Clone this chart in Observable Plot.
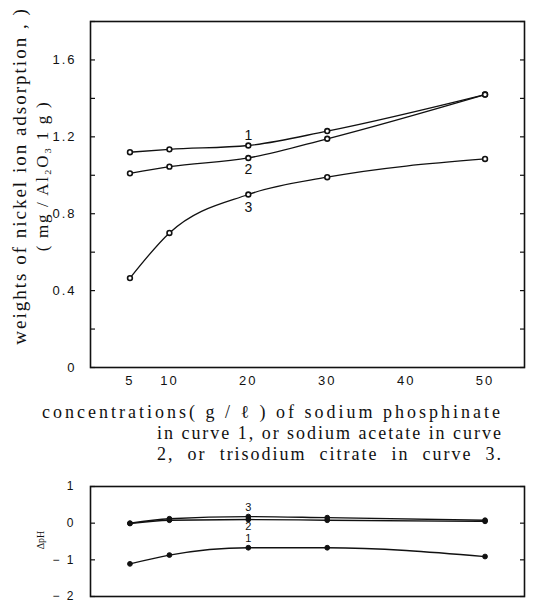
<!DOCTYPE html>
<html>
<head>
<meta charset="utf-8">
<script src="https://cdn.jsdelivr.net/npm/d3@7"></script>
<script src="https://cdn.jsdelivr.net/npm/@observablehq/plot@0.6"></script>
<style>
  html, body { margin: 0; padding: 0; background: white; }
  #wrap { position: relative; width: 550px; height: 604px; overflow: hidden; background: white; }
  #top, #bot { position: absolute; left: 0; }
  #top { top: 0; }
  #bot { top: 470px; }
  .rot { position: absolute; white-space: nowrap; line-height: 1; transform: translate(-50%, -50%) rotate(-90deg); font-family: "Liberation Serif", "DejaVu Serif", serif; color: #111; }
  .cap { position: absolute; white-space: nowrap; line-height: 1; transform: translate(0, -50%); font-family: "Liberation Serif", "DejaVu Serif", serif; color: #111; }
  svg g[aria-label$="tick label"] text { letter-spacing: 2px; }
</style>
</head>
<body>
<div id="wrap">
  <div id="top"></div>
  <div id="bot"></div>
</div>
<script>
// ---- data ----
const concentrations = [5, 10, 20, 30, 50];
const adsorption1 = [1.12, 1.135, 1.155, 1.23, 1.42];
const adsorption2 = [1.01, 1.045, 1.09, 1.19, 1.42];
const adsorption3 = [0.465, 0.70, 0.90, 0.99, 1.085];
const deltaPH1 = [-1.11, -0.87, -0.67, -0.67, -0.91];
const deltaPH2 = [-0.01, 0.08, 0.10, 0.08, 0.05];
const deltaPH3 = [0.0, 0.12, 0.18, 0.15, 0.08];
const curveNames = ["1", "2", "3"];
const xTickValues = [5, 10, 20, 30, 40, 50];
const yTickValues = [0, 0.4, 0.8, 1.2, 1.6];
const yMinorTicks = [0, 0.2, 0.4, 0.6, 0.8, 1.0, 1.2, 1.4, 1.6, 1.8];
const phTickValues = [1, 0, -1, -2];
const yTitle1 = "weights of nickel ion adsorption , )";
const yTitle2 = "( mg / Al\u2082O\u2083 1 g )";
const caption1 = "concentrations( g / \u2113 ) of sodium phosphinate";
const caption2 = "in curve 1, or sodium acetate in curve";
const caption3 = "2, or trisodium citrate in curve 3.";
const phTitle = "\u0394pH";

// ---- tables ----
const adsorption = [adsorption1, adsorption2, adsorption3];
const deltaPH = [deltaPH1, deltaPH2, deltaPH3];
const topRows = adsorption.flatMap((vals, i) => vals.map((v, j) => ({x: concentrations[j], y: v, curve: curveNames[i]})));
const botRows = deltaPH.flatMap((vals, i) => vals.map((v, j) => ({x: concentrations[j], y: v, curve: curveNames[i]})));
const at20 = concentrations.indexOf(20);

const ink = "#111";
const baseStyle = {fontFamily: "Liberation Sans, Arial, sans-serif", fontSize: "13px", color: ink, background: "white", overflow: "visible"};

const topPlot = Plot.plot({
  width: 550, height: 392,
  marginLeft: 90, marginRight: 26, marginTop: 21, marginBottom: 25,
  x: {domain: [0, 55]},
  y: {domain: [0, 1.8]},
  style: baseStyle,
  marks: [
    Plot.frame({stroke: ink, strokeWidth: 1.6}),
    Plot.axisY({ticks: yMinorTicks, tickSize: -5, tickFormat: () => "", label: null, strokeWidth: 1.2}),
    Plot.axisY({anchor: "right", ticks: yMinorTicks, tickSize: -5, tickFormat: () => "", label: null, strokeWidth: 1.2}),
    Plot.axisY({ticks: yTickValues, tickSize: 0, tickPadding: 14, tickFormat: d => d === 0 ? "0" : d3.format(".1f")(d), label: null}),
    Plot.axisX({ticks: xTickValues, tickSize: 0, tickPadding: 8, label: null}),
    Plot.line(topRows, {x: "x", y: "y", z: "curve", curve: "monotone-x", stroke: ink, strokeWidth: 1.3}),
    Plot.dot(topRows, {x: "x", y: "y", r: 2.4, fill: "white", stroke: ink, strokeWidth: 1.6}),
    Plot.text([{x: 20, y: adsorption1[at20], t: curveNames[0]}], {x: "x", y: "y", text: "t", dy: -10, fontSize: 14}),
    Plot.text([{x: 20, y: adsorption2[at20], t: curveNames[1]}], {x: "x", y: "y", text: "t", dy: 12, fontSize: 14}),
    Plot.text([{x: 20, y: adsorption3[at20], t: curveNames[2]}], {x: "x", y: "y", text: "t", dy: 13, fontSize: 14})
  ]
});
document.getElementById("top").appendChild(topPlot);

const botPlot = Plot.plot({
  width: 550, height: 134,
  marginLeft: 90, marginRight: 26, marginTop: 16, marginBottom: 8,
  x: {domain: [0, 55]},
  y: {domain: [-2, 1]},
  style: {...baseStyle, fontSize: "12px"},
  marks: [
    Plot.frame({stroke: ink, strokeWidth: 1.6}),
    Plot.axisY({ticks: phTickValues, tickSize: -5, tickFormat: () => "", label: null, strokeWidth: 1.2}),
    Plot.axisY({anchor: "right", ticks: phTickValues, tickSize: -5, tickFormat: () => "", label: null, strokeWidth: 1.2}),
    Plot.axisY({ticks: phTickValues, tickSize: 0, tickPadding: 15, tickFormat: d => d < 0 ? "\u2212 " + (-d) : String(d), label: null}),
    Plot.axisX({ticks: [], tickSize: 0, label: null}),
    Plot.line(botRows, {x: "x", y: "y", z: "curve", curve: "monotone-x", stroke: ink, strokeWidth: 1.3}),
    Plot.dot(botRows, {x: "x", y: "y", r: 2.4, fill: ink, stroke: ink, strokeWidth: 1}),
    Plot.text([{x: 20, y: deltaPH3[at20], t: curveNames[2]}], {x: "x", y: "y", text: "t", dy: -9, fontSize: 11}),
    Plot.text([{x: 20, y: deltaPH2[at20], t: curveNames[1]}], {x: "x", y: "y", text: "t", dy: 7, fontSize: 11}),
    Plot.text([{x: 20, y: deltaPH1[at20], t: curveNames[0]}], {x: "x", y: "y", text: "t", dy: -9, fontSize: 11})
  ]
});
document.getElementById("bot").appendChild(botPlot);

// ---- titles ----
const wrap = document.getElementById("wrap");
function addText(cls, text, left, top, size, targetWidth, wordFill) {
  const el = document.createElement("div");
  el.className = cls;
  el.textContent = text;
  el.style.left = left + "px";
  el.style.top = top + "px";
  el.style.fontSize = size + "px";
  wrap.appendChild(el);
  if (targetWidth) {
    const w = el.offsetWidth;
    if (wordFill) {
      el.style.letterSpacing = wordFill.ls + "px";
      const w2 = el.offsetWidth;
      const gaps = (text.match(/ /g) || []).length;
      el.style.wordSpacing = ((targetWidth - w2) / gaps) + "px";
    } else {
      const ls = (targetWidth - w) / text.length;
      el.style.letterSpacing = ls + "px";
      return ls;
    }
  }
  return 0;
}
addText("rot", yTitle1, 19, 176, 19, 337);
addText("rot", yTitle2, 42, 176, 17, 150);
addText("rot", phTitle, 41, 540, 10, 0);
addText("cap", caption1, 42, 412, 18, 461);
const ls2 = addText("cap", caption2, 157, 433, 18, 346);
addText("cap", caption3, 157, 454, 18, 346, {ls: ls2});
</script>
</body>
</html>
